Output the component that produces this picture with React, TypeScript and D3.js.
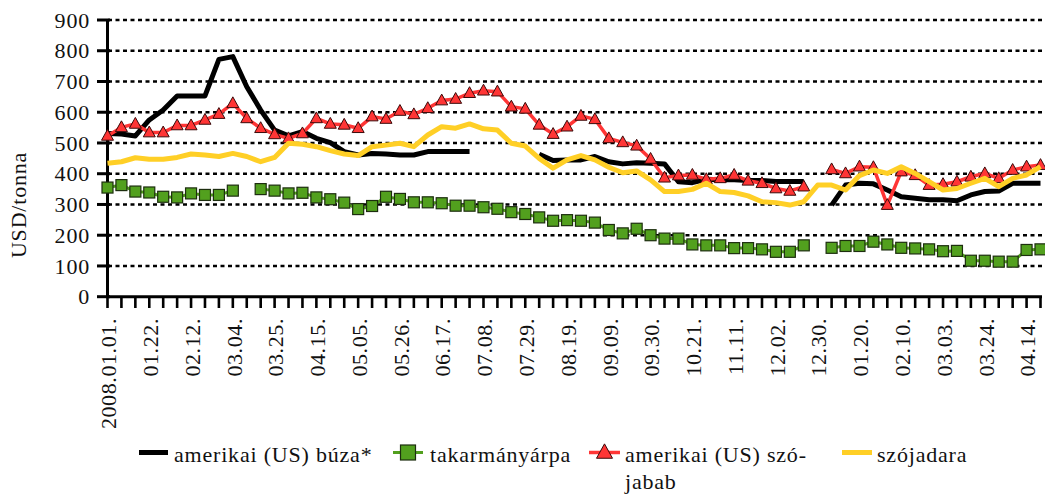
import React from "react";
import * as d3 from "d3";

// weekly quotations, 2008.01.01 - 2009.04.21 (68 weeks)
const tickLabels = [
  "2008.01.01.", "01.22.", "02.12.", "03.04.", "03.25.", "04.15.", "05.05.", "05.26.",
  "06.17.", "07.08.", "07.29.", "08.19.", "09.09.", "09.30.", "10.21.", "11.11.",
  "12.02.", "12.30.", "01.20.", "02.10.", "03.03.", "03.24.", "04.14.",
];

const wheat = [
  531, 529, 523, 575, 607, 653, 653, 653, 772, 781, 683, 607, 542, 523, 537, 515, 501,
  472, 461, 466, 464, 461, 461, 472, 472, 472, 472, null, null, null, null, 463, 443,
  445, 445, 456, 439, 432, 436, 434, 432, 374, 371, 382, 380, 380, 378, 378, 375, 375,
  375, null, 298, 363, 369, 367, 347, 325, 320, 315, 315, 312, 331, 342, 344, 369, 369, 369,
];

const barley = [
  355, 363, 342, 339, 325, 323, 336, 331, 331, 345, null, 350, 345, 336, 338, 323, 317,
  306, 285, 295, 325, 318, 307, 307, 304, 296, 296, 291, 286, 275, 269, 258, 247, 249,
  247, 241, 217, 206, 221, 200, 189, 189, 170, 167, 167, 158, 158, 154, 146, 146, 167,
  null, 159, 165, 165, 179, 170, 159, 157, 154, 148, 149, 117, 117, 114, 114, 152, 154,
];

const soybean = [
  523, 551, 562, 534, 534, 557, 557, 575, 594, 629, 580, 548, 528, 515, 531, 580, 562,
  559, 548, 586, 578, 604, 593, 613, 638, 643, 662, 670, 667, 618, 611, 559, 529, 553,
  588, 577, 515, 502, 491, 448, 387, 394, 396, 382, 385, 396, 377, 369, 352, 344, 358,
  null, 414, 401, 423, 421, 298, 407, 395, 363, 366, 374, 390, 401, 385, 412, 423, 428,
];

const soymeal = [
  434, 439, 452, 447, 447, 453, 464, 461, 456, 466, 456, 439, 453, 499, 496, 488, 475,
  464, 459, 488, 493, 499, 488, 526, 553, 548, 562, 546, 542, 499, 490, 450, 418, 445,
  459, 445, 421, 403, 409, 380, 342, 342, 349, 369, 342, 339, 328, 309, 306, 298, 309,
  363, 363, 347, 394, 412, 401, 423, 401, 374, 347, 352, 369, 385, 358, 385, 396, 423,
];

const yTicks = [0, 100, 200, 300, 400, 500, 600, 700, 800, 900];

const FONT = '"Liberation Serif", cursive';
const RED = "#ff3535";
const GREEN = "#52a01e";
const YELLOW = "#ffcf26";

const tri = (cx, cy, w) => {
  const h = w * 0.9;
  return `M${cx},${cy - h * 0.6}L${cx + w / 2},${cy + h * 0.4}L${cx - w / 2},${cy + h * 0.4}Z`;
};

export default function App() {
  const idx = d3.range(wheat.length);
  const x = d3.scalePoint<number>().domain(idx).range([107.5, 1040.5]);
  const y = d3.scaleLinear().domain([0, 900]).range([296.7, 20]);

  const line = d3
    .line<number | null>()
    .defined((d) => d != null)
    .x((_, i) => x(i)!)
    .y((d) => y(d as number));

  const txt = { fontFamily: FONT, fontSize: 22, letterSpacing: 0.8, fill: "#111" };

  return (
    <svg
      width={1045}
      height={495}
      style={{ position: "absolute", left: 0, top: 0, background: "#fff", fontFamily: FONT }}
    >
      {/* gridlines */}
      {yTicks.slice(1).map((t) => (
        <line
          key={t}
          x1={108}
          x2={1042}
          y1={y(t)}
          y2={y(t)}
          stroke="#000"
          strokeWidth={2.6}
          strokeDasharray="4 3.5"
        />
      ))}

      {/* y axis */}
      <line x1={107.5} x2={107.5} y1={y(900) - 1} y2={y(0) + 1} stroke="#000" strokeWidth={3} />
      {yTicks.map((t) => (
        <g key={t}>
          <line x1={97} x2={110} y1={y(t)} y2={y(t)} stroke="#000" strokeWidth={3} />
          <text x={90} y={y(t)} dy="0.35em" textAnchor="end" style={txt}>
            {t}
          </text>
        </g>
      ))}
      <text transform={`translate(26,205) rotate(-90)`} textAnchor="middle" style={txt}>
        USD/tonna
      </text>

      {/* x axis */}
      <line x1={106} x2={1042} y1={y(0)} y2={y(0)} stroke="#000" strokeWidth={3} />
      {idx.map((i) => (
        <line key={i} x1={x(i)} x2={x(i)} y1={y(0)} y2={308} stroke="#000" strokeWidth={2.6} />
      ))}
      {tickLabels.map((lab, k) => (
        <text
          key={lab + k}
          transform={`translate(${x(k * 3)! + 1},318) rotate(-90)`}
          dy="0.35em"
          textAnchor="end"
          style={{ ...txt, letterSpacing: 0.6 }}
        >
          {lab}
        </text>
      ))}

      {/* series */}
      <path d={line(wheat) ?? ""} fill="none" stroke="#000" strokeWidth={5} strokeLinejoin="round" />
      <path d={line(barley) ?? ""} fill="none" stroke={GREEN} strokeWidth={3} />
      {barley.map((v, i) =>
        v == null ? null : (
          <rect
            key={i}
            x={x(i)! - 5.5}
            y={y(v) - 5.5}
            width={11}
            height={11}
            fill={GREEN}
            stroke="#1d2e0f"
            strokeWidth={1.2}
          />
        )
      )}
      <path d={line(soybean) ?? ""} fill="none" stroke={RED} strokeWidth={3.5} />
      {soybean.map((v, i) =>
        v == null ? null : (
          <path key={i} d={tri(x(i)!, y(v), 12)} fill={RED} stroke="#3a0a0a" strokeWidth={1} />
        )
      )}
      <path d={line(soymeal) ?? ""} fill="none" stroke={YELLOW} strokeWidth={5} strokeLinejoin="round" />

      {/* legend */}
      <g>
        <line x1={139} x2={168} y1={452.5} y2={452.5} stroke="#000" strokeWidth={5} />
        <text x={174} y={462} style={txt}>amerikai (US) búza*</text>

        <line x1={393} x2={423} y1={452.5} y2={452.5} stroke={GREEN} strokeWidth={3} />
        <rect x={400.5} y={445} width={15} height={15} fill={GREEN} stroke="#1d2e0f" strokeWidth={1.2} />
        <text x={430} y={462} style={txt}>takarmányárpa</text>

        <line x1={589} x2={620} y1={452.5} y2={452.5} stroke={RED} strokeWidth={3.5} />
        <path d={tri(604.5, 452.5, 16)} fill={RED} stroke="#3a0a0a" strokeWidth={1} />
        <text x={625} y={462} style={txt}>amerikai (US) szó-</text>
        <text x={625} y={489} style={txt}>jabab</text>

        <line x1={842} x2={872} y1={452.5} y2={452.5} stroke={YELLOW} strokeWidth={5} />
        <text x={877} y={462} style={txt}>szójadara</text>
      </g>
    </svg>
  );
}
